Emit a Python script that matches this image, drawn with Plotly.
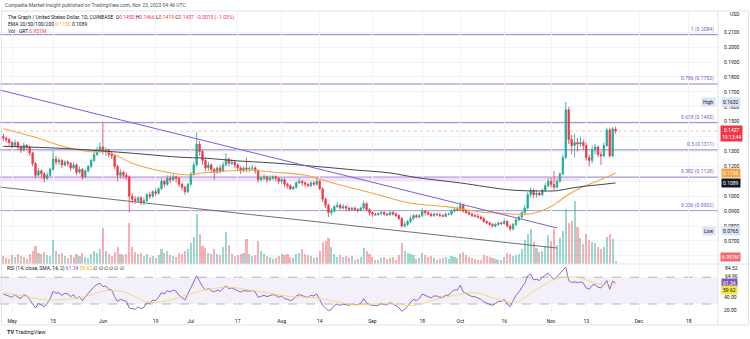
import plotly.graph_objects as go
import pandas as pd

# ---------------- DATA ----------------
dates = pd.date_range("2023-04-28", "2023-11-23", freq="D")

opens_apr = [0.140, 0.139, 0.138]
highs_apr = [0.142, 0.140, 0.139]
lows_apr = [0.137, 0.136, 0.134]
closes_apr = [0.139, 0.138, 0.136]

opens_may = [0.136, 0.134, 0.136, 0.133, 0.131, 0.134, 0.133, 0.129, 0.122, 0.114, 0.117, 0.115, 0.112, 0.114, 0.118, 0.125,
             0.123, 0.124, 0.121, 0.123, 0.122, 0.119, 0.121, 0.116, 0.118, 0.113, 0.117, 0.120, 0.124, 0.128, 0.131]
highs_may = [0.137, 0.138, 0.137, 0.134, 0.136, 0.135, 0.134, 0.130, 0.123, 0.119, 0.118, 0.116, 0.116, 0.119, 0.132, 0.127,
             0.126, 0.125, 0.124, 0.124, 0.123, 0.123, 0.122, 0.120, 0.119, 0.118, 0.121, 0.125, 0.130, 0.133, 0.136]
lows_may = [0.132, 0.133, 0.131, 0.129, 0.130, 0.131, 0.127, 0.120, 0.112, 0.113, 0.112, 0.109, 0.111, 0.113, 0.117, 0.121,
            0.121, 0.119, 0.120, 0.120, 0.117, 0.118, 0.114, 0.115, 0.111, 0.112, 0.116, 0.119, 0.123, 0.127, 0.129]
closes_may = [0.134, 0.136, 0.133, 0.131, 0.134, 0.133, 0.129, 0.122, 0.114, 0.117, 0.115, 0.112, 0.114, 0.118, 0.125, 0.123,
              0.124, 0.121, 0.123, 0.122, 0.119, 0.121, 0.116, 0.118, 0.113, 0.117, 0.120, 0.124, 0.128, 0.131, 0.133]

opens_jun = [0.133, 0.130, 0.131, 0.128, 0.127, 0.120, 0.114, 0.116, 0.114, 0.113, 0.100, 0.098, 0.097, 0.099, 0.096,
             0.097, 0.101, 0.100, 0.103, 0.102, 0.105, 0.110, 0.108, 0.112, 0.111, 0.113, 0.112, 0.108, 0.106, 0.103]
highs_jun = [0.150, 0.133, 0.132, 0.130, 0.128, 0.121, 0.118, 0.117, 0.116, 0.114, 0.102, 0.100, 0.100, 0.100, 0.099,
             0.102, 0.103, 0.104, 0.105, 0.106, 0.112, 0.111, 0.114, 0.114, 0.115, 0.114, 0.113, 0.109, 0.107, 0.109]
lows_jun = [0.128, 0.127, 0.126, 0.125, 0.118, 0.110, 0.112, 0.112, 0.111, 0.089, 0.095, 0.095, 0.096, 0.094, 0.094,
            0.096, 0.098, 0.099, 0.100, 0.101, 0.104, 0.106, 0.107, 0.109, 0.110, 0.109, 0.106, 0.104, 0.101, 0.102]
closes_jun = [0.130, 0.131, 0.128, 0.127, 0.120, 0.114, 0.116, 0.114, 0.113, 0.100, 0.098, 0.097, 0.099, 0.096, 0.097,
              0.101, 0.100, 0.103, 0.102, 0.105, 0.110, 0.108, 0.112, 0.111, 0.113, 0.112, 0.108, 0.106, 0.103, 0.108]

opens_jul = [0.108, 0.115, 0.121, 0.135, 0.130, 0.124, 0.119, 0.121, 0.118, 0.116, 0.119, 0.117, 0.121, 0.125, 0.122, 0.123,
             0.121, 0.119, 0.117, 0.119, 0.118, 0.1185, 0.119, 0.117, 0.111, 0.112, 0.113, 0.111, 0.112, 0.113, 0.112]
highs_jul = [0.116, 0.123, 0.143, 0.137, 0.131, 0.126, 0.123, 0.122, 0.119, 0.120, 0.121, 0.123, 0.129, 0.126, 0.125, 0.124,
             0.122, 0.120, 0.120, 0.126, 0.120, 0.121, 0.120, 0.118, 0.114, 0.115, 0.114, 0.114, 0.114, 0.114, 0.113]
lows_jul = [0.107, 0.114, 0.120, 0.127, 0.121, 0.117, 0.117, 0.116, 0.111, 0.115, 0.115, 0.116, 0.120, 0.120, 0.121, 0.119,
            0.117, 0.115, 0.116, 0.116, 0.116, 0.117, 0.115, 0.109, 0.110, 0.111, 0.109, 0.110, 0.111, 0.110, 0.108]
closes_jul = [0.115, 0.121, 0.135, 0.130, 0.124, 0.119, 0.121, 0.118, 0.116, 0.119, 0.117, 0.121, 0.125, 0.122, 0.123, 0.121,
              0.119, 0.117, 0.119, 0.118, 0.1185, 0.119, 0.117, 0.111, 0.112, 0.113, 0.111, 0.112, 0.113, 0.112, 0.110]

opens_aug = [0.110, 0.111, 0.108, 0.107, 0.105, 0.106, 0.109, 0.110, 0.109, 0.108, 0.107, 0.109, 0.108, 0.110, 0.105, 0.098,
             0.094, 0.089, 0.090, 0.093, 0.094, 0.092, 0.093, 0.092, 0.091, 0.092, 0.091, 0.0905, 0.092, 0.095, 0.091]
highs_aug = [0.113, 0.112, 0.109, 0.108, 0.107, 0.110, 0.112, 0.111, 0.110, 0.109, 0.110, 0.110, 0.112, 0.111, 0.106, 0.099,
             0.095, 0.092, 0.094, 0.096, 0.095, 0.095, 0.094, 0.093, 0.093, 0.093, 0.092, 0.093, 0.097, 0.096, 0.092]
lows_aug = [0.108, 0.106, 0.105, 0.104, 0.104, 0.105, 0.108, 0.107, 0.106, 0.106, 0.106, 0.107, 0.107, 0.104, 0.096, 0.092,
            0.086, 0.087, 0.089, 0.092, 0.091, 0.091, 0.090, 0.090, 0.090, 0.090, 0.089, 0.090, 0.091, 0.090, 0.087]
closes_aug = [0.111, 0.108, 0.107, 0.105, 0.106, 0.109, 0.110, 0.109, 0.108, 0.107, 0.109, 0.108, 0.110, 0.105, 0.098, 0.094,
              0.089, 0.090, 0.093, 0.094, 0.092, 0.093, 0.092, 0.091, 0.092, 0.091, 0.0905, 0.092, 0.095, 0.091, 0.089]

opens_sep = [0.089, 0.088, 0.0875, 0.0885, 0.089, 0.088, 0.0875, 0.089, 0.088, 0.087, 0.085, 0.080, 0.081, 0.083, 0.085,
             0.087, 0.086, 0.087, 0.090, 0.089, 0.088, 0.087, 0.088, 0.0875, 0.087, 0.0865, 0.088, 0.088, 0.090, 0.091]
highs_sep = [0.090, 0.089, 0.089, 0.090, 0.090, 0.089, 0.090, 0.090, 0.089, 0.088, 0.086, 0.083, 0.084, 0.087, 0.088,
             0.088, 0.088, 0.092, 0.091, 0.090, 0.089, 0.089, 0.089, 0.089, 0.088, 0.089, 0.089, 0.091, 0.092, 0.093]
lows_sep = [0.086, 0.087, 0.087, 0.087, 0.087, 0.087, 0.087, 0.087, 0.086, 0.084, 0.079, 0.079, 0.080, 0.082, 0.084,
            0.085, 0.085, 0.086, 0.087, 0.087, 0.086, 0.086, 0.087, 0.086, 0.086, 0.086, 0.087, 0.087, 0.089, 0.090]
closes_sep = [0.088, 0.0875, 0.0885, 0.089, 0.088, 0.0875, 0.089, 0.088, 0.087, 0.085, 0.080, 0.081, 0.083, 0.085, 0.087,
              0.086, 0.087, 0.090, 0.089, 0.088, 0.087, 0.088, 0.0875, 0.087, 0.0865, 0.088, 0.088, 0.090, 0.091, 0.0905]

opens_oct = [0.0905, 0.094, 0.090, 0.089, 0.088, 0.087, 0.0865, 0.086, 0.085, 0.083, 0.082, 0.081, 0.080, 0.081, 0.082, 0.0815,
             0.083, 0.080, 0.078, 0.081, 0.084, 0.086, 0.089, 0.092, 0.101, 0.104, 0.101, 0.102, 0.101, 0.104, 0.107]
highs_oct = [0.096, 0.095, 0.091, 0.090, 0.089, 0.088, 0.088, 0.087, 0.086, 0.084, 0.083, 0.082, 0.082, 0.083, 0.083, 0.085,
             0.084, 0.081, 0.082, 0.085, 0.087, 0.090, 0.094, 0.103, 0.106, 0.105, 0.104, 0.103, 0.105, 0.109, 0.112]
lows_oct = [0.090, 0.089, 0.088, 0.087, 0.086, 0.086, 0.085, 0.084, 0.082, 0.081, 0.080, 0.079, 0.079, 0.080, 0.081, 0.081,
            0.079, 0.0765, 0.077, 0.080, 0.083, 0.085, 0.088, 0.091, 0.099, 0.099, 0.099, 0.100, 0.100, 0.103, 0.106]
closes_oct = [0.094, 0.090, 0.089, 0.088, 0.087, 0.0865, 0.086, 0.085, 0.083, 0.082, 0.081, 0.080, 0.081, 0.082, 0.0815, 0.083,
              0.080, 0.078, 0.081, 0.084, 0.086, 0.089, 0.092, 0.101, 0.104, 0.101, 0.102, 0.101, 0.104, 0.107, 0.110]

opens_nov = [0.110, 0.108, 0.106, 0.110, 0.115, 0.126, 0.158, 0.138, 0.134, 0.136, 0.135, 0.136, 0.134, 0.126, 0.124, 0.131,
             0.133, 0.128, 0.127, 0.134, 0.1445, 0.127, 0.1450]
highs_nov = [0.113, 0.117, 0.112, 0.116, 0.128, 0.1632, 0.160, 0.141, 0.142, 0.139, 0.140, 0.138, 0.136, 0.128, 0.134, 0.135,
             0.134, 0.130, 0.136, 0.146, 0.146, 0.1465, 0.1466]
lows_nov = [0.106, 0.104, 0.105, 0.109, 0.114, 0.125, 0.135, 0.128, 0.126, 0.130, 0.133, 0.131, 0.124, 0.120, 0.122, 0.128,
            0.126, 0.121, 0.126, 0.133, 0.126, 0.126, 0.1419]
closes_nov = [0.108, 0.106, 0.110, 0.115, 0.126, 0.158, 0.138, 0.134, 0.136, 0.135, 0.136, 0.134, 0.126, 0.124, 0.131, 0.133,
              0.128, 0.127, 0.134, 0.1445, 0.127, 0.1452, 0.1437]

# volume (millions of GRT)
vol_apr = [18, 14, 12]
vol_may = [20, 16, 22, 18, 15, 12, 24, 30, 42, 26, 22, 28, 20, 18, 55, 30, 22, 26, 18, 14, 20, 16, 24, 18, 26, 16, 14, 22, 30, 26, 34]
vol_jun = [83, 30, 22, 18, 28, 40, 24, 20, 22, 94, 40, 28, 22, 26, 18, 22, 16, 18, 14, 20, 34, 26, 30, 20, 18, 16, 26, 24, 30, 34]
vol_jul = [48, 62, 115, 70, 42, 36, 26, 22, 34, 22, 20, 40, 74, 44, 22, 18, 20, 22, 26, 58, 24, 18, 20, 52, 30, 22, 18, 16, 12, 14, 18]
vol_aug = [24, 20, 22, 16, 14, 22, 26, 34, 22, 20, 18, 14, 16, 30, 50, 52, 60, 38, 22, 16, 20, 16, 18, 14, 18, 10, 12, 16, 36, 30, 22]
vol_sep = [16, 10, 10, 14, 16, 12, 14, 16, 10, 20, 48, 30, 26, 24, 20, 12, 14, 26, 20, 16, 18, 14, 10, 12, 14, 16, 12, 18, 16, 14]
vol_oct = [22, 28, 20, 16, 14, 12, 10, 10, 20, 18, 16, 14, 12, 10, 10, 16, 26, 22, 18, 20, 22, 34, 56, 70, 80, 50, 36, 28, 30, 42, 66]
vol_nov = [52, 80, 44, 60, 75, 127, 95, 100, 145, 85, 60, 45, 70, 56, 50, 48, 40, 34, 38, 62, 70, 58, 7]

# RSI(14)
rsi_apr = [45, 43, 41]
rsi_may = [40, 44, 40, 38, 44, 42, 37, 30, 24, 31, 29, 26, 31, 38, 49, 46, 47, 43, 46, 45, 41, 44, 38, 41, 35, 41, 46, 51, 56, 59, 61]
rsi_jun = [56, 57, 52, 51, 41, 34, 37, 35, 34, 24, 23, 22, 26, 23, 25, 32, 31, 36, 35, 40, 47, 45, 50, 48, 51, 49, 43, 40, 36, 45]
rsi_jul = [54, 61, 72, 64, 56, 51, 53, 50, 48, 51, 49, 53, 57, 53, 54, 52, 50, 48, 50, 49, 49, 50, 48, 40, 42, 43, 41, 43, 44, 43, 40]
rsi_aug = [42, 38, 37, 35, 37, 42, 44, 42, 41, 40, 43, 42, 45, 37, 28, 24, 20, 22, 28, 30, 28, 30, 29, 28, 30, 29, 29, 31, 38, 32, 29]
rsi_sep = [28, 28, 28, 31, 29, 29, 32, 30, 28, 25, 19, 22, 27, 32, 37, 35, 38, 45, 43, 41, 39, 42, 42, 40, 40, 43, 43, 48, 51, 51]
rsi_oct = [58, 48, 46, 43, 41, 41, 39, 37, 33, 31, 29, 28, 31, 34, 34, 37, 30, 26, 35, 43, 48, 55, 61, 72, 75, 66, 67, 65, 70, 73, 76]
rsi_nov = [71, 66, 71, 75, 81, 85, 65, 62, 63, 62, 63, 61, 54, 52, 58, 59, 55, 54, 59, 65, 52, 64, 61.34]

# RSI-based SMA (read at weekly points)
sma_dates = ["2023-04-28", "2023-05-05", "2023-05-12", "2023-05-19", "2023-05-26", "2023-06-02", "2023-06-09", "2023-06-16",
             "2023-06-23", "2023-06-30", "2023-07-07", "2023-07-14", "2023-07-21", "2023-07-28", "2023-08-04", "2023-08-11",
             "2023-08-18", "2023-08-25", "2023-09-01", "2023-09-08", "2023-09-15", "2023-09-22", "2023-09-29", "2023-10-06",
             "2023-10-13", "2023-10-20", "2023-10-27", "2023-11-03", "2023-11-10", "2023-11-17", "2023-11-23"]
sma_vals = [47, 42, 36, 37, 41, 50, 47, 33, 35, 44, 52, 55, 51, 46, 41, 40, 35, 29, 30, 30, 28, 36, 43, 47, 38, 33, 52, 68,
            70, 60, 59.62]

# EMA lines
ema_o_dates = ["2023-04-28", "2023-05-08", "2023-05-19", "2023-05-27", "2023-06-03", "2023-06-11", "2023-06-22", "2023-07-01",
               "2023-07-04", "2023-07-15", "2023-07-21", "2023-07-29", "2023-08-09", "2023-08-13", "2023-08-21", "2023-09-01",
               "2023-09-12", "2023-09-16", "2023-09-27", "2023-10-08", "2023-10-14", "2023-10-23", "2023-10-27", "2023-10-31",
               "2023-11-03", "2023-11-06", "2023-11-09", "2023-11-12", "2023-11-16", "2023-11-20", "2023-11-23"]
ema_o_vals = [0.1452, 0.1400, 0.1332, 0.1300, 0.1295, 0.1221, 0.1164, 0.1142, 0.1154, 0.1171, 0.1176, 0.1162, 0.1142, 0.1120,
              0.1075, 0.1020, 0.0961, 0.0948, 0.0928, 0.0894, 0.0887, 0.0878, 0.0890, 0.0920, 0.0955, 0.1000, 0.1035, 0.1065,
              0.1095, 0.1128, 0.1156]
ema_b_dates = ["2023-04-28", "2023-05-19", "2023-06-10", "2023-06-27", "2023-07-06", "2023-07-17", "2023-07-29", "2023-08-15",
               "2023-08-26", "2023-09-07", "2023-09-16", "2023-10-01", "2023-10-18", "2023-10-28", "2023-11-03", "2023-11-08",
               "2023-11-13", "2023-11-18", "2023-11-23"]
ema_b_vals = [0.1335, 0.1320, 0.1290, 0.1262, 0.1255, 0.1237, 0.1223, 0.1196, 0.1176, 0.1156, 0.1125, 0.1089, 0.1042, 0.1035,
              0.1037, 0.1055, 0.1068, 0.1078, 0.1089]

# Fibonacci retracement levels
fib_ratios = ["1", "0.786", "0.618", "0.5", "0.382", "0.236", "0"]
fib_prices = [0.2084, 0.1753, 0.1493, 0.1311, 0.1128, 0.0902, 0.0537]

# drawn trend lines (start date, start price, end date, end price)
trend_purple = ["2023-04-26 21:00", 0.1712, "2023-11-03", 0.0787]
trend_black = ["2023-04-26 21:00", 0.1061, "2023-11-03", 0.0652]
zone = ["2023-04-26", 0.1102, "2023-11-11", 0.1135]

last_price = 0.1437
price_ticks = [0.06, 0.07, 0.08, 0.09, 0.10, 0.11, 0.12, 0.13, 0.14, 0.15, 0.16, 0.17, 0.18, 0.19, 0.20, 0.21]
price_tick_text = ["", "0.0700", "0.0800", "0.0900", "0.1000", "", "0.1200", "0.1300", "", "0.1500", "0.1600",
                   "0.1700", "0.1800", "0.1900", "0.2000", "0.2100"]
x_tick_dates = ["2023-05-01", "2023-05-15", "2023-06-01", "2023-06-19", "2023-07-01", "2023-07-17", "2023-08-01", "2023-08-14",
                "2023-09-01", "2023-09-18", "2023-10-01", "2023-10-16", "2023-11-01", "2023-11-13", "2023-12-01", "2023-12-18"]
x_tick_text = ["May", "15", "Jun", "19", "Jul", "17", "Aug", "14", "Sep", "18", "Oct", "16", "Nov", "13", "Dec", "18"]

opens = opens_apr + opens_may + opens_jun + opens_jul + opens_aug + opens_sep + opens_oct + opens_nov
highs = highs_apr + highs_may + highs_jun + highs_jul + highs_aug + highs_sep + highs_oct + highs_nov
lows = lows_apr + lows_may + lows_jun + lows_jul + lows_aug + lows_sep + lows_oct + lows_nov
closes = closes_apr + closes_may + closes_jun + closes_jul + closes_aug + closes_sep + closes_oct + closes_nov
volumes = vol_apr + vol_may + vol_jun + vol_jul + vol_aug + vol_sep + vol_oct + vol_nov
rsi = rsi_apr + rsi_may + rsi_jun + rsi_jul + rsi_aug + rsi_sep + rsi_oct + rsi_nov

# ---------------- STYLE ----------------
W, H = 750, 339
GREEN = "#22ab94"
RED = "#f23645"
PURPLE = "#7e57c2"
FIBC = "#8a7fd0"
FONT = "Roboto"
TXT = "#131722"

def py(px):
    return 1 - px / H

def pxx(px):
    return px / W

price_dom = [py(264), py(12)]
rsi_dom = [py(313), py(264)]
x_dom = [0, 718 / W]
x_range = ["2023-04-26 21:00", "2023-12-27 23:00"]

fig = go.Figure()

vol_colors = ["rgba(34,171,148,0.45)" if c >= o else "rgba(242,54,69,0.40)" for o, c in zip(opens, closes)]
fig.add_trace(go.Bar(x=dates, y=volumes, marker=dict(color=vol_colors, line=dict(width=0)),
                     width=0.72 * 86400000, xaxis="x", yaxis="y", hoverinfo="skip"))

fig.add_trace(go.Candlestick(x=dates, open=opens, high=highs, low=lows, close=closes,
                             increasing=dict(line=dict(color=GREEN, width=0.8), fillcolor=GREEN),
                             decreasing=dict(line=dict(color=RED, width=0.8), fillcolor=RED),
                             whiskerwidth=0, xaxis="x", yaxis="y3"))

fig.add_trace(go.Scatter(x=pd.to_datetime(ema_o_dates), y=ema_o_vals, mode="lines",
                         line=dict(color="#f7a440", width=1.1, shape="spline"), xaxis="x", yaxis="y3"))
fig.add_trace(go.Scatter(x=pd.to_datetime(ema_b_dates), y=ema_b_vals, mode="lines",
                         line=dict(color="#434651", width=1, shape="spline"), xaxis="x", yaxis="y3"))

fig.add_trace(go.Scatter(x=dates, y=rsi, mode="lines", line=dict(color=PURPLE, width=0.9), xaxis="x2", yaxis="y2"))
fig.add_trace(go.Scatter(x=pd.to_datetime(sma_dates), y=sma_vals, mode="lines",
                         line=dict(color="#f5d76e", width=0.9, shape="spline"), xaxis="x2", yaxis="y2"))

shapes = []
# zone band
shapes.append(dict(type="rect", xref="x", yref="y3", x0=zone[0], x1=zone[2], y0=zone[1], y1=zone[3],
                   fillcolor="rgba(225,190,231,0.45)", line=dict(width=0), layer="below"))
# fib levels
for p in fib_prices:
    shapes.append(dict(type="line", xref="x domain", yref="y3", x0=0, x1=1, y0=p, y1=p,
                       line=dict(color=FIBC, width=1), layer="below"))
# current price dotted line
shapes.append(dict(type="line", xref="x domain", yref="y3", x0=0, x1=1, y0=last_price, y1=last_price,
                   line=dict(color="rgba(242,54,69,0.55)", width=0.6, dash="dot"), layer="below"))
# trend lines
shapes.append(dict(type="line", xref="x", yref="y3", x0=trend_purple[0], y0=trend_purple[1], x1=trend_purple[2], y1=trend_purple[3],
                   line=dict(color="#7b5fd6", width=1)))
shapes.append(dict(type="line", xref="x", yref="y3", x0=trend_black[0], y0=trend_black[1], x1=trend_black[2], y1=trend_black[3],
                   line=dict(color="#5d606b", width=0.9)))
# RSI band
shapes.append(dict(type="rect", xref="x2 domain", yref="y2", x0=0, x1=1, y0=30, y1=70,
                   fillcolor="rgba(126,87,194,0.09)", line=dict(width=0), layer="below"))
for lv in [70, 30]:
    shapes.append(dict(type="line", xref="x2 domain", yref="y2", x0=0, x1=1, y0=lv, y1=lv,
                       line=dict(color="#9598a1", width=0.7, dash="dash"), layer="below"))
# pane separators and frame
shapes.append(dict(type="line", xref="paper", yref="paper", x0=0, x1=1, y0=py(264), y1=py(264),
                   line=dict(color="#e0e3eb", width=1)))
shapes.append(dict(type="line", xref="paper", yref="paper", x0=pxx(718), x1=pxx(718), y0=py(325), y1=py(11),
                   line=dict(color="#e0e3eb", width=1)))
shapes.append(dict(type="rect", xref="paper", yref="paper", x0=pxx(1.5), x1=pxx(748.5), y0=py(325), y1=py(11),
                   line=dict(color="#e0e3eb", width=1)))

ann = []
def label(x, y, text, size=5, color=TXT, xanchor="left", bg=None, yref="paper", xref="paper", yanchor="middle"):
    d = dict(x=x, y=y, xref=xref, yref=yref, text=text, showarrow=False, xanchor=xanchor, yanchor=yanchor,
             font=dict(family=FONT, size=size, color=color), borderpad=1)
    if bg:
        d["bgcolor"] = bg
    ann.append(d)

label(pxx(3), py(5.5), "Coinpedia-Market-Insight published on TradingView.com, Nov 23, 2023 04:46 UTC", 5, "#50535e")
label(pxx(6), py(17), "The Graph / United States Dollar, 1D, COINBASE&nbsp;&nbsp;"
      "O<span style='color:#f23645'>0.1450</span> H<span style='color:#f23645'>0.1466</span> "
      "L<span style='color:#f23645'>0.1419</span> C<span style='color:#f23645'>0.1437 −0.0015 (−1.03%)</span>", 5)
label(pxx(6), py(24), "EMA 20/50/100/200 <span style='color:#f7a440'>0.1156</span> <span style='color:#131722'>0.1089</span>", 5)
label(pxx(6), py(31), "Vol · GRT <span style='color:#f23645'>6.951M</span>", 5)
label(pxx(5), py(268), "RSI (14, close, SMA, 14, 2) <span style='color:#7e57c2'>61.34</span> "
      "<span style='color:#e0b800'>59.62</span> ∅ ∅ ∅ ∅ ∅ ∅", 5)
label(pxx(728), py(14), "USD", 5)
label(pxx(5), py(332), "<b>TV</b> TradingView", 5.5, "#131722")

for r, p in zip(fib_ratios, fib_prices):
    label(pxx(716), p, f"{r} ({p:.4f})", 5, "#6f63c4", xanchor="right", yref="y3", yanchor="bottom")

# right-axis value boxes
label(pxx(716), py(101.7), "High", 5, TXT, xanchor="right", bg="#dbe5f5")
label(pxx(721), py(101.7), "0.1632", 5, TXT, bg="#dbe5f5")
label(pxx(720), py(133), "0.1437<br>19:13:44", 5, "white", bg=RED)
label(pxx(721), py(172.5), "0.1156", 5, "white", bg="#f7a440")
label(pxx(721), py(183), "0.1089", 5, "white", bg=TXT)
label(pxx(716), py(230.7), "Low", 5, TXT, xanchor="right", bg="#dbe5f5")
label(pxx(721), py(230.7), "0.0765", 5, TXT, bg="#dbe5f5")
label(pxx(720), py(257), "6.951M", 5, "white", bg="#f0696f")
label(pxx(723), py(267.7), "84.52", 5, TXT)
label(pxx(723), py(275.7), "64.96", 5, TXT)
label(pxx(721), py(282.5), "61.34", 5, "white", bg=PURPLE)
label(pxx(721), py(289.5), "59.62", 5, TXT, bg="#f7e43c")

fig.update_layout(
    width=W, height=H, margin=dict(l=0, r=0, t=0, b=0),
    paper_bgcolor="white", plot_bgcolor="white", showlegend=False,
    font=dict(family=FONT, size=5, color=TXT),
    shapes=shapes, annotations=ann, bargap=0,
    xaxis=dict(domain=x_dom, range=x_range, type="date", anchor="y3", showticklabels=False,
               tickvals=x_tick_dates, showgrid=True, gridcolor="#f0f3fa", gridwidth=1,
               rangeslider=dict(visible=False), zeroline=False, showline=False),
    xaxis2=dict(domain=x_dom, range=x_range, type="date", anchor="y2", matches="x",
                tickvals=x_tick_dates, ticktext=x_tick_text, showgrid=True, gridcolor="#f0f3fa",
                ticks="outside", ticklen=3, tickcolor="rgba(0,0,0,0)",
                tickfont=dict(family=FONT, size=5, color=TXT), zeroline=False, showline=False),
    yaxis=dict(domain=price_dom, range=[0, 580], visible=False, fixedrange=True),
    yaxis3=dict(domain=price_dom, range=[0.0545, 0.2236], overlaying="y", side="right", anchor="x",
                tickvals=price_ticks, ticktext=price_tick_text, showgrid=True, gridcolor="#f0f3fa",
                ticks="outside", ticklen=4, tickcolor="rgba(0,0,0,0)",
                tickfont=dict(family=FONT, size=5, color=TXT), zeroline=False, showline=False),
    yaxis2=dict(domain=rsi_dom, range=[16.6, 89.7], side="right", anchor="x2",
                tickvals=[20, 40], ticktext=["20.00", "40.00"], showgrid=False,
                ticks="outside", ticklen=4, tickcolor="rgba(0,0,0,0)",
                tickfont=dict(family=FONT, size=5, color=TXT), zeroline=False, showline=False),
)

fig.write_html("out.html")
